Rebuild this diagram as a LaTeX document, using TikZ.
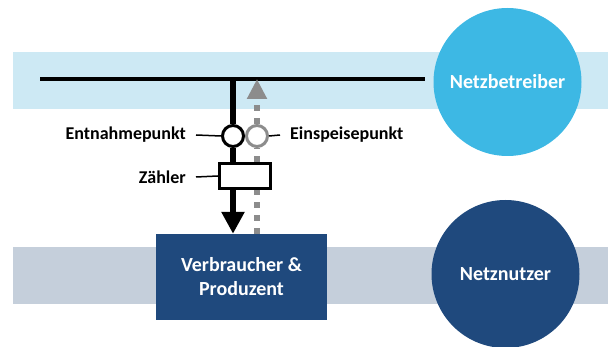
\documentclass[tikz,border=0pt]{standalone}
\usepackage{fontspec}
\setmainfont{Carlito}
\usepackage{xcolor}
\usepackage{tikz}
\usetikzlibrary{arrows.meta}

\definecolor{bandoben}{HTML}{CDE9F4}
\definecolor{bandunten}{HTML}{C5CFDB}
\definecolor{hellblau}{HTML}{3DB8E4}
\definecolor{dunkelblau}{HTML}{1F497D}
\definecolor{pfeilgrau}{HTML}{8C8C8C}

\begin{document}
\begin{tikzpicture}[x=1pt, y=-1pt, every node/.style = {font=\fontsize{18}{23}\selectfont\bfseries, inner sep=0pt},
  rolle/.style = {circle, minimum size=148pt, text=white, font=\fontsize{20}{24}\selectfont\bfseries},
  punkt/.style = {circle, draw, line width=3pt, fill=white, minimum size=21pt},
  beschriftung/.style = {inner xsep=10pt, inner ysep=2pt},
  leitung/.style = {line width=6pt},
  einspeisung/.style = {pfeilgrau, line width=6pt, dash pattern=on 6pt off 7pt},
  zuleitung/.style = {line width=1.5pt}]

\useasboundingbox (0,0) rectangle (608,347);

\fill[bandoben] (13,52) rectangle (608,109);
\fill[bandunten] (13,247) rectangle (608,304);

\node (netzbetreiber) [rolle, fill=hellblau] at (507.5,82) {Netzbetreiber};
\node (netznutzer) [rolle, fill=dunkelblau] at (505.5,274) {Netznutzer};
\node (verbraucher) [fill=dunkelblau, text=white, align=center, minimum width=171pt, minimum height=86pt, font=\fontsize{20}{24}\selectfont\bfseries] at (241.5,277) {Verbraucher \&\\Produzent};

\coordinate (busLinks) at (40,79);
\coordinate (busRechts) at (425,79);
\draw[line width=3.5pt] (busLinks) -- (busRechts);

\node (entnahme) [punkt] at (233,136) {};
\node (einspeise) [punkt, draw=pfeilgrau] at (257,136) {};
\node (zaehler) [draw, line width=3pt, fill=white, minimum width=51pt, minimum height=25pt] at (245,176) {};

\node (entnahmeText) [beschriftung, anchor=east] at (196,135) {Entnahmepunkt};
\node (einspeiseText) [beschriftung, anchor=west] at (280,135) {Einspeisepunkt};
\node (zaehlerText) [beschriftung, anchor=east] at (196,177) {Zähler};

% Entnahme (schwarz)
\draw[leitung] (entnahme.north |- busLinks) -- (entnahme.north);
\draw[leitung] (entnahme.south) -- (entnahme.south |- zaehler.north);
\draw[leitung, -{Triangle[width=22pt, length=22pt]}] (entnahme.south |- zaehler.south) -- (entnahme.south |- verbraucher.north);

% Einspeisung (grau)
\draw[einspeisung] (einspeise.south |- verbraucher.north) -- (einspeise.south |- zaehler.south);
\draw[einspeisung] (einspeise.south |- zaehler.north) -- (einspeise.south);
\draw[einspeisung, -{Triangle[width=19pt, length=20pt]}] (einspeise.north) -- (einspeise.north |- busLinks);

\draw[zuleitung] (entnahmeText.east) -- (entnahme.west);
\draw[zuleitung] (einspeise.east) -- (einspeiseText.west);
\draw[zuleitung] (zaehlerText.east) -- (zaehler.west);
\end{tikzpicture}
\end{document}
